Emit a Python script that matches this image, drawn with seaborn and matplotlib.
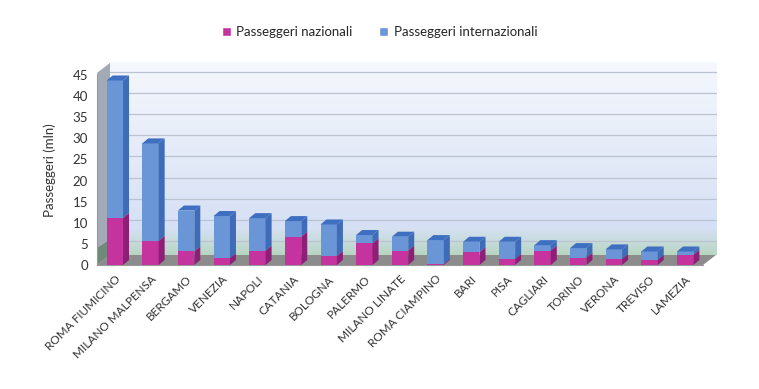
import numpy as np
import pandas as pd
import matplotlib
matplotlib.use("Agg")
import matplotlib.pyplot as plt
from matplotlib.patches import Polygon, Patch
import seaborn as sns

# Dati (milioni di passeggeri)
aeroporti = ["ROMA FIUMICINO", "MILANO MALPENSA", "BERGAMO", "VENEZIA", "NAPOLI",
             "CATANIA", "BOLOGNA", "PALERMO", "MILANO LINATE", "ROMA CIAMPINO",
             "BARI", "PISA", "CAGLIARI", "TORINO", "VERONA", "TREVISO", "LAMEZIA"]
nazionali = [11.1, 5.7, 3.2, 1.6, 3.4, 6.7, 2.1, 5.1, 3.4, 0.2,
             3.0, 1.4, 3.4, 1.7, 1.4, 1.2, 2.4]
internazionali = [32.6, 23.1, 9.7, 10.0, 7.7, 3.7, 7.5, 2.0, 3.3, 5.7,
                  2.5, 4.1, 1.3, 2.3, 2.3, 2.0, 0.8]
y_ticks = list(range(0, 50, 5))

df = pd.DataFrame({"aeroporto": aeroporti, "naz": nazionali, "int": internazionali})
df["tot"] = df["naz"] + df["int"]

sns.set_style("white")
plt.rcParams["font.family"] = ["Lato", "DejaVu Sans"]

fig = plt.figure(figsize=(7.59, 3.89), dpi=100)
ax = fig.add_axes([97 / 759, (389 - 265) / 389, (703 - 97) / 759, 190 / 389])
ax.set_xlim(-0.5, len(aeroporti) - 0.5)
ax.set_ylim(0, 45)
ax.patch.set_alpha(0)

# conversione pixel -> dati per l'effetto 3D
px_x = (len(aeroporti)) / 606
px_y = 45 / 190
wall_dx, wall_dy = 13 * px_x, 10 * px_y
bar_dx, bar_dy = 6 * px_x, 5 * px_y

# parete di fondo con sfumatura
n = 256
t = np.linspace(0, 1, n)[:, None]
top_c = np.array([0.96, 0.97, 0.99])
mid_c = np.array([0.84, 0.88, 0.96])
grn_c = np.array([0.72, 0.84, 0.76])
grad = np.where(t < 0.86, top_c + (mid_c - top_c) * (t / 0.86),
                mid_c + (grn_c - mid_c) * ((t - 0.86) / 0.14))
grad = np.repeat(grad[:, None, :], 2, axis=1)
x0, x1 = -0.5 + wall_dx, len(aeroporti) - 0.5 + wall_dx
ax.imshow(grad, extent=[x0, x1, wall_dy, 45.5 + wall_dy], aspect="auto",
          origin="upper", zorder=0, clip_on=False)
for v in y_ticks[1:]:
    ax.plot([x0, x1], [v + wall_dy * 0.3, v + wall_dy * 0.3], color="#bcc3d0",
            lw=0.9, zorder=1, clip_on=False)

# parete sinistra
ax.add_patch(Polygon([(-0.5, 0), (x0, wall_dy), (x0, 45.5 + wall_dy), (-0.5, 45.5)],
                     closed=True, facecolor="#a2aab6", edgecolor="none", zorder=1,
                     clip_on=False))
ax.add_patch(Polygon([(-0.5, 0), (x0, wall_dy), (x0, 6), (-0.5, 4)],
                     closed=True, facecolor="#6f8a78", edgecolor="none", zorder=1,
                     clip_on=False))

# pavimento
ax.add_patch(Polygon([(-0.5, 0), (len(aeroporti) - 0.5, 0), (x1, wall_dy), (x0, wall_dy)],
                     closed=True, facecolor="#8c8c8c", edgecolor="none", zorder=2,
                     clip_on=False))

# barre impilate
sns.barplot(data=df, x="aeroporto", y="tot", color="#6a95d6", width=0.46,
            saturation=1, ax=ax, zorder=3, order=aeroporti, linewidth=0,
            edgecolor="none")
sns.barplot(data=df, x="aeroporto", y="naz", color="#c4339e", width=0.46,
            saturation=1, ax=ax, zorder=4, order=aeroporti, linewidth=0,
            edgecolor="none")

nb = len(aeroporti)
for i, pb in enumerate(ax.containers[0]):
    x = pb.get_x()
    w = pb.get_width()
    tot = df["tot"][i]
    naz = df["naz"][i]
    # lato destro
    ax.add_patch(Polygon([(x + w, naz), (x + w + bar_dx, naz + bar_dy),
                          (x + w + bar_dx, tot + bar_dy), (x + w, tot)],
                         facecolor="#3e6cb8", edgecolor="none", zorder=4))
    ax.add_patch(Polygon([(x + w, 0), (x + w + bar_dx, bar_dy),
                          (x + w + bar_dx, naz + bar_dy), (x + w, naz)],
                         facecolor="#8e1f76", edgecolor="none", zorder=5))
    # tetto
    ax.add_patch(Polygon([(x, tot), (x + w, tot), (x + w + bar_dx, tot + bar_dy),
                          (x + bar_dx, tot + bar_dy)],
                         facecolor="#3f6fc0", edgecolor="none", zorder=5))

ax.set_xlabel("")
ax.set_ylabel("Passeggeri (mln)", fontsize=9.5, color="#333333", labelpad=12)
ax.set_yticks(y_ticks)
ax.tick_params(axis="y", labelsize=9.5, colors="#333333", length=3, width=0.8)
ax.set_xticks(range(nb))
ax.set_xticklabels(aeroporti, rotation=45, ha="right", rotation_mode="anchor",
                   fontsize=8.5, color="#333333")
ax.tick_params(axis="x", length=0, pad=6)
ax.set_xticks(np.arange(-0.5, nb, 1), minor=True)
ax.tick_params(axis="x", which="minor", length=4, color="#888888", width=0.8)
for s in ["top", "right"]:
    ax.spines[s].set_visible(False)
for s in ["left", "bottom"]:
    ax.spines[s].set_color("#999999")
    ax.spines[s].set_linewidth(0.8)

handles = [Patch(facecolor="#c4339e", label="Passeggeri nazionali"),
           Patch(facecolor="#6a95d6", label="Passeggeri internazionali")]
fig.legend(handles=handles, loc="center", bbox_to_anchor=(0.5, 1 - 32 / 389), ncol=2,
           frameon=False, fontsize=9.5, handlelength=0.7, handleheight=0.7,
           columnspacing=2.0, handletextpad=0.4)

fig.savefig("out.png", dpi=100)
